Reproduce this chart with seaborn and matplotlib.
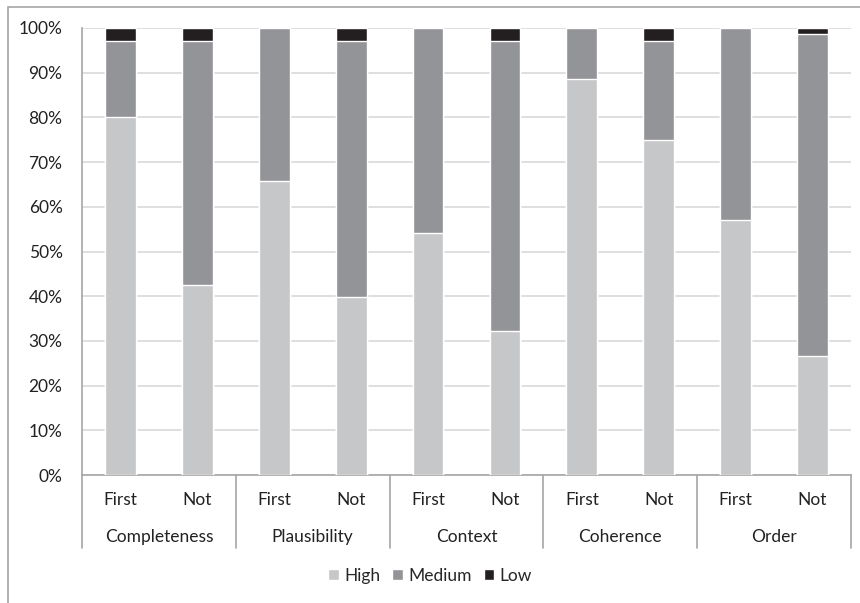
import matplotlib
matplotlib.use("Agg")
import matplotlib.pyplot as plt
import matplotlib.transforms as mtransforms
from matplotlib.patches import Rectangle, Patch
import numpy as np
import pandas as pd
import seaborn as sns

sns.set_theme(style="white")
plt.rcParams['font.family'] = ['Lato', 'DejaVu Sans']

# Data (percent of responses)
criteria = ['Completeness', 'Plausibility', 'Context', 'Coherence', 'Order']
subgroups = ['First', 'Not']
high = [80.0, 42.5, 65.7, 39.8, 54.1, 32.3, 88.6, 75.0, 57.1, 26.6]
medium = [17.1, 54.5, 34.3, 57.2, 45.9, 64.7, 11.4, 22.0, 42.9, 72.0]
low = [2.9, 3.0, 0.0, 3.0, 0.0, 3.0, 0.0, 3.0, 0.0, 1.4]

C_HIGH = '#c6c7c9'
C_MED = '#939497'
C_LOW = '#231f20'
GRID = '#d9d9d9'
AXIS = '#a6a6a6'
TXT = '#222222'
FS = 12.5

bars = [f"{c}-{s}" for c in criteria for s in subgroups]
df = pd.DataFrame({'bar': bars, 'High': high, 'Medium': medium, 'Low': low})
df['cum_med'] = df['High'] + df['Medium']
df['cum_low'] = df['cum_med'] + df['Low']

fig = plt.figure(figsize=(8.6, 6.03), dpi=100)
ax = fig.add_axes([82 / 860, 128 / 603, 769 / 860, 447 / 603])

# stacked bars: draw cumulative totals back to front
sns.barplot(data=df, x='bar', y='cum_low', color=C_LOW, width=0.4, saturation=1, ax=ax, zorder=3)
sns.barplot(data=df, x='bar', y='cum_med', color=C_MED, width=0.4, saturation=1, ax=ax, zorder=3)
sns.barplot(data=df, x='bar', y='High', color=C_HIGH, width=0.4, saturation=1, ax=ax, zorder=3)

ax.set_xlim(-0.5, len(bars) - 0.5)
ax.set_ylim(0, 100)
ax.set_yticks(np.arange(0, 101, 10))
ax.set_yticklabels([f"{v}%" for v in range(0, 101, 10)], fontsize=FS, color=TXT)
ax.tick_params(axis='y', length=0, pad=14)
ax.set_xticks([])
ax.set_xlabel('')
ax.set_ylabel('')
ax.yaxis.grid(True, color=GRID, linewidth=1.2, zorder=0)
ax.set_axisbelow(True)
for side in ['top', 'right']:
    ax.spines[side].set_visible(False)
ax.spines['left'].set_color(AXIS)
ax.spines['bottom'].set_color(AXIS)
ax.spines['left'].set_linewidth(1.2)
ax.spines['bottom'].set_linewidth(1.2)

# hierarchical category axis
trans = mtransforms.blended_transform_factory(ax.transData, ax.transAxes)
ax_h = 447
sep_bottom = -(548 - 475) / ax_h
for k in range(len(criteria) + 1):
    xb = k * 2 - 0.5
    ax.plot([xb, xb], [0, sep_bottom], transform=trans, color=AXIS, lw=1.2, clip_on=False)
for i, b in enumerate(bars):
    ax.text(i, -(500 - 475) / ax_h, subgroups[i % 2], transform=trans, ha='center', va='center',
            fontsize=FS, color=TXT)
for k, c in enumerate(criteria):
    ax.text(k * 2 + 0.5, -(537 - 475) / ax_h, c, transform=trans, ha='center', va='center',
            fontsize=FS, color=TXT)

handles = [Patch(facecolor=C_HIGH, label='High'),
           Patch(facecolor=C_MED, label='Medium'),
           Patch(facecolor=C_LOW, label='Low')]
fig.legend(handles=handles, loc='center', bbox_to_anchor=(430 / 860, 1 - 576 / 603), ncol=3,
           frameon=False, fontsize=FS, handlelength=0.6, handleheight=0.6, handletextpad=0.3,
           columnspacing=0.7)

# chart area border
fig.patches.append(Rectangle((8 / 860, -0.1), 1.2, 1 - 7 / 603 + 0.1, transform=fig.transFigure,
                             fill=False, edgecolor=AXIS, lw=1.2))

fig.savefig('out.png', dpi=100)
